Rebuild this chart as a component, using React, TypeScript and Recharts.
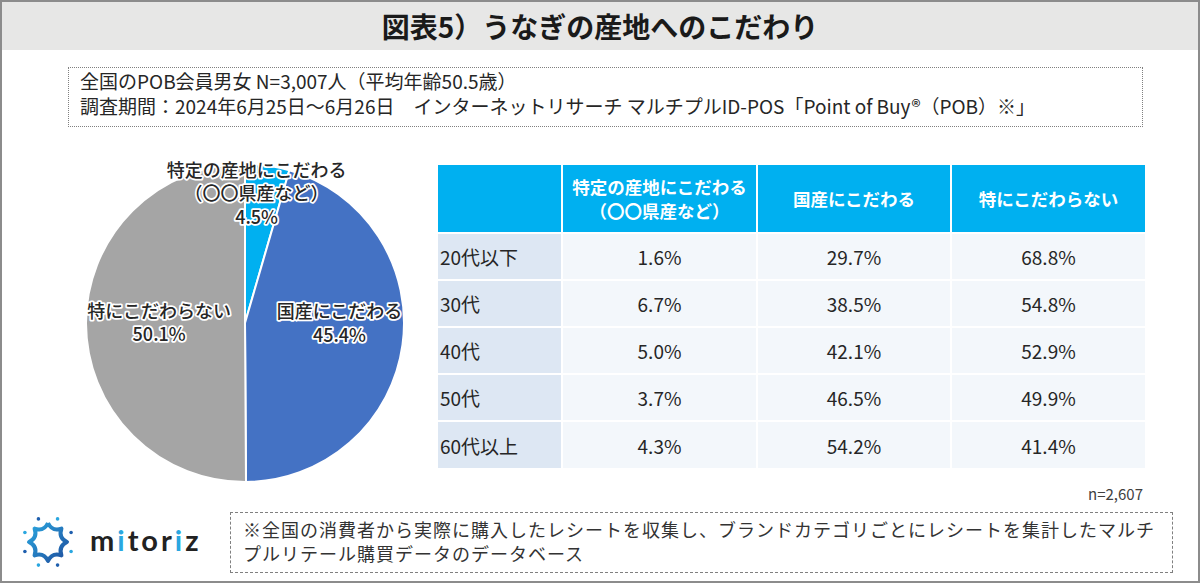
import React from 'react';
import { PieChart, Pie, Cell } from 'recharts';

const PIE_NAMES = ['特定の産地にこだわる（〇〇県産など）', '国産にこだわる', '特にこだわらない'];
const PIE_LABEL_LINES = [['特定の産地にこだわる', '（〇〇県産など）'], ['国産にこだわる'], ['特にこだわらない']];
const PIE_VALUES = [4.5, 45.4, 50.1];
const PIE_COLORS = ['#00b0f0', '#4472c4', '#a5a5a5'];

const TABLE_HEADERS = [['特定の産地にこだわる', '（〇〇県産など）'], ['国産にこだわる'], ['特にこだわらない']];
const AGE_GROUPS = ['20代以下', '30代', '40代', '50代', '60代以上'];
const SPECIFIC_AREA = [1.6, 6.7, 5.0, 3.7, 4.3];
const DOMESTIC = [29.7, 38.5, 42.1, 46.5, 54.2];
const NO_PREFERENCE = [68.8, 54.8, 52.9, 49.9, 41.4];

const FONT = '"Noto Sans CJK JP", "Noto Sans", sans-serif';

// label placement per slice: radius fraction + nudge
const LABEL_LAYOUT = [
  { r: 0.83, dx: -7, dy: 0 },
  { r: 0.6, dx: 0, dy: -14 },
  { r: 0.54, dx: 0, dy: -2 },
];

const renderLabel = (props: any) => {
  const { cx, cy, midAngle, outerRadius, index, value } = props;
  const RAD = Math.PI / 180;
  const lay = LABEL_LAYOUT[index];
  const x = cx + outerRadius * lay.r * Math.cos(-midAngle * RAD) + lay.dx;
  const y = cy + outerRadius * lay.r * Math.sin(-midAngle * RAD) + lay.dy;
  const lines = [...PIE_LABEL_LINES[index], `${value.toFixed(1)}%`];
  const lh = 23.5;
  const y0 = y - ((lines.length - 1) * lh) / 2;
  return (
    <text
      x={x}
      y={y0}
      textAnchor="middle"
      dominantBaseline="central"
      fontFamily={FONT}
      fontSize={18}
      fontWeight={500}
      fill="#262626"
      stroke="#ffffff"
      strokeWidth={3.5}
      strokeLinejoin="round"
      style={{ paintOrder: 'stroke' }}
    >
      {lines.map((l, i) => (
        <tspan key={i} x={x} dy={i === 0 ? 0 : lh}>
          {l}
        </tspan>
      ))}
    </text>
  );
};

const Logo = () => {
  const cx = 48;
  const cy = 542;
  const pts: string[] = [];
  for (let k = 0; k < 8; k++) {
    const a = (k * 45 - 90) * (Math.PI / 180);
    const a2 = ((k + 0.5) * 45 - 90) * (Math.PI / 180);
    const x = cx + 19 * Math.cos(a);
    const y = cy + 19 * Math.sin(a);
    const qx = cx + 11 * Math.cos(a2);
    const qy = cy + 11 * Math.sin(a2);
    const b = ((k + 1) * 45 - 90) * (Math.PI / 180);
    const nx = cx + 19 * Math.cos(b);
    const ny = cy + 19 * Math.sin(b);
    if (k === 0) pts.push(`M${x},${y}`);
    pts.push(`Q${qx},${qy} ${nx},${ny}`);
  }
  const dots = [];
  for (let k = 0; k < 8; k++) {
    const a = (k * 45 - 90 + 22.5) * (Math.PI / 180);
    dots.push(
      <circle key={k} cx={cx + 25 * Math.cos(a)} cy={cy + 25 * Math.sin(a)} r={1.8} fill={k % 2 ? '#1f5fae' : '#2aa7e0'} />
    );
  }
  return (
    <svg width={220} height={70} style={{ position: 'absolute', left: -2, top: 505 }} viewBox="0 507 220 70">
      <defs>
        <linearGradient id="lg" x1="0" y1="0" x2="1" y2="1">
          <stop offset="0%" stopColor="#2aa7e0" />
          <stop offset="100%" stopColor="#1f4f9e" />
        </linearGradient>
      </defs>
      <path d={pts.join(' ')} fill="none" stroke="url(#lg)" strokeWidth={4} strokeLinejoin="round" />
      {dots}
      <text x={90} y={551} fontFamily="Lato, sans-serif" fontWeight={700} fontSize={29} letterSpacing={3} fill="#222">
        m<tspan fill="#2aa7e0">i</tspan>tor<tspan fill="#2aa7e0">i</tspan>z
      </text>
    </svg>
  );
};

export default function App() {
  const pieData = PIE_NAMES.map((name, i) => ({ name, value: PIE_VALUES[i] }));
  const cols = [SPECIFIC_AREA, DOMESTIC, NO_PREFERENCE];
  const colWidths = [124, 195, 194, 194];
  const cellBorder = '2px solid #ffffff';

  return (
    <div
      style={{
        position: 'absolute',
        left: 0,
        top: 0,
        width: 1200,
        height: 583,
        boxSizing: 'border-box',
        border: '2px solid #8c8c8c',
        background: '#ffffff',
        fontFamily: FONT,
        overflow: 'hidden',
      }}
    >
      <div
        style={{
          position: 'absolute',
          left: 0,
          top: 0,
          width: 1196,
          height: 48,
          background: '#e7e7e6',
          display: 'flex',
          alignItems: 'center',
          justifyContent: 'center',
          fontSize: 28,
          fontWeight: 700,
          color: '#1a1a1a',
        }}
      >
        図表5）うなぎの産地へのこだわり
      </div>

      <div
        style={{
          position: 'absolute',
          left: 66,
          top: 65,
          width: 1075,
          height: 60,
          boxSizing: 'border-box',
          border: '1px dotted #808080',
          padding: '0 0 0 11px',
          fontSize: 19,
          lineHeight: '25px',
          color: '#262626',
          whiteSpace: 'nowrap',
        }}
      >
        <div>全国のPOB会員男女 N=3,007人（平均年齢50.5歳）</div>
        <div>調査期間：2024年6月25日～6月26日　インターネットリサーチ マルチプルID-POS「Point of Buy®（POB）※」</div>
      </div>

      <div style={{ position: 'absolute', left: 68, top: 146 }}>
        <PieChart width={340} height={340}>
          <Pie
            data={pieData}
            dataKey="value"
            nameKey="name"
            cx={170}
            cy={170}
            outerRadius={159}
            startAngle={90}
            endAngle={-270}
            stroke="#ffffff"
            strokeWidth={2}
            labelLine={false}
            label={renderLabel}
            isAnimationActive={false}
          >
            {pieData.map((d, i) => (
              <Cell key={d.name} fill={PIE_COLORS[i]} />
            ))}
          </Pie>
        </PieChart>
      </div>

      <table
        style={{
          position: 'absolute',
          left: 436,
          top: 163,
          borderCollapse: 'collapse',
          tableLayout: 'fixed',
          fontFamily: FONT,
        }}
      >
        <colgroup>
          {colWidths.map((w, i) => (
            <col key={i} style={{ width: w }} />
          ))}
        </colgroup>
        <thead>
          <tr style={{ height: 68 }}>
            <th style={{ background: '#00b0f0', borderRight: cellBorder }} />
            {TABLE_HEADERS.map((h, i) => (
              <th
                key={i}
                style={{
                  background: '#00b0f0',
                  color: '#ffffff',
                  fontSize: 17.5,
                  fontWeight: 700,
                  lineHeight: '24px',
                  borderRight: i < 2 ? cellBorder : 'none',
                  padding: 0,
                }}
              >
                {h.map((l, j) => (
                  <div key={j}>{l}</div>
                ))}
              </th>
            ))}
          </tr>
        </thead>
        <tbody>
          {AGE_GROUPS.map((g, r) => (
            <tr key={g} style={{ height: 47 }}>
              <td
                style={{
                  background: '#dde7f3',
                  fontSize: 19,
                  color: '#262626',
                  padding: '0 0 0 2px',
                  borderTop: cellBorder,
                  borderRight: cellBorder,
                }}
              >
                {g}
              </td>
              {cols.map((c, i) => (
                <td
                  key={i}
                  style={{
                    background: '#f3f7fb',
                    fontSize: 19,
                    color: '#262626',
                    textAlign: 'center',
                    padding: 0,
                    borderTop: cellBorder,
                    borderRight: i < 2 ? cellBorder : 'none',
                  }}
                >
                  {c[r].toFixed(1)}%
                </td>
              ))}
            </tr>
          ))}
        </tbody>
      </table>

      <div
        style={{
          position: 'absolute',
          right: 55,
          top: 481,
          fontSize: 15,
          color: '#404040',
        }}
      >
        n=2,607
      </div>

      <Logo />

      <div
        style={{
          position: 'absolute',
          left: 228,
          top: 510,
          width: 943,
          height: 61,
          boxSizing: 'border-box',
          border: '1px dashed #808080',
          padding: '4px 0 0 12px',
          fontSize: 18,
          letterSpacing: 1,
          lineHeight: '24px',
          color: '#333333',
        }}
      >
        ※全国の消費者から実際に購入したレシートを収集し、ブランドカテゴリごとにレシートを集計したマルチ
        <br />
        プルリテール購買データのデータベース
      </div>
    </div>
  );
}
